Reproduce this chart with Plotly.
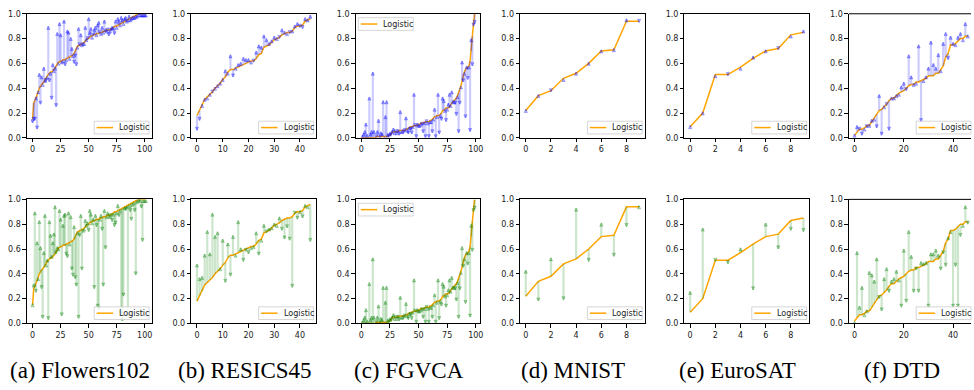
import plotly.graph_objects as go

W, H = 974, 390

# ---------------- data ----------------
flowers_logit = [0.15,0.28,0.30,0.32,0.34,0.37,0.40,0.42,0.43,0.44,
 0.45,0.47,0.48,0.50,0.51,0.52,0.53,0.53,0.54,0.55,
 0.56,0.58,0.60,0.61,0.61,0.62,0.62,0.63,0.63,0.63,
 0.64,0.64,0.65,0.65,0.66,0.66,0.67,0.68,0.70,0.72,
 0.74,0.74,0.75,0.75,0.76,0.76,0.77,0.78,0.79,0.80,
 0.80,0.81,0.82,0.82,0.83,0.83,0.83,0.84,0.84,0.84,
 0.85,0.85,0.85,0.86,0.86,0.86,0.87,0.87,0.87,0.87,
 0.88,0.88,0.89,0.90,0.90,0.90,0.91,0.91,0.92,0.92,
 0.93,0.93,0.94,0.94,0.95,0.95,0.96,0.96,0.97,0.97,
 0.98,0.98,0.99,0.99,1.00,1.00,1.00,1.00,1.00,1.00,
 1.00,1.00]
flowers_top = [0.12,0.14,0.14,0.33,0.07,0.38,0.52,0.27,0.50,0.44,
 0.57,0.47,0.45,0.50,0.90,0.45,0.53,0.31,0.60,0.55,
 0.57,0.25,0.85,0.61,0.93,0.84,0.62,0.63,0.95,0.58,
 0.64,0.87,0.86,0.65,0.81,0.73,0.67,0.60,0.65,0.58,
 0.74,0.89,0.74,0.84,0.76,0.77,0.77,0.90,0.80,0.79,
 0.97,0.86,0.89,0.82,0.82,0.88,0.90,0.84,0.92,0.94,
 0.84,0.85,0.90,0.86,0.95,0.88,0.87,0.86,0.82,0.87,
 0.86,0.90,0.89,0.83,0.95,0.90,0.97,0.95,0.92,0.98,
 0.96,0.93,0.97,0.98,0.95,0.96,0.99,0.96,0.97,0.98,
 0.98,0.98,0.99,0.99,1.00,0.99,1.00,1.00,1.00,1.00,
 1.00,1.00]
flowers_bottom = [0.16,0.32,0.90,0.25,0.66,0.37,0.83,0.62,0.28,0.04,
 0.58,0.88,0.48,0.52,0.03,0.83,0.72,0.55,0.66,0.73,
 0.95,0.56,0.62,0.61,0.92,0.85,0.06,0.80,0.88,0.89,
 0.55,0.53,0.90,0.65,0.87,0.43,0.38,0.79,0.36,0.30,
 0.74,0.04,0.70,0.88,0.43,0.76,0.77,0.84,0.80,0.82,
 0.74,0.92,0.89,0.82,0.85,0.28,0.88,0.78,0.13,0.11,
 0.85,0.88,0.75,0.30,0.92,0.60,0.87,0.90,0.88,0.87,
 0.86,0.82,0.89,0.78,0.80,0.90,0.96,0.86,0.92,0.07,
 0.02,0.22,0.94,0.91,0.95,0.05,0.96,0.90,0.83,0.97,
 0.98,0.90,0.39,0.99,1.00,0.98,1.00,0.93,0.66,1.00,
 1.00,1.00]

resisc_logit = [0.18,0.22,0.26,0.31,0.33,0.35,0.37,0.40,0.42,0.44,
 0.47,0.49,0.53,0.55,0.55,0.56,0.57,0.58,0.59,0.60,
 0.61,0.62,0.62,0.64,0.67,0.68,0.73,0.74,0.75,0.77,
 0.79,0.80,0.81,0.83,0.84,0.85,0.85,0.86,0.89,0.90,
 0.90,0.91,0.94,0.95,0.96]
resisc_top = [0.06,0.14,0.27,0.32,0.33,0.36,0.36,0.41,0.43,0.45,
 0.48,0.55,0.53,0.67,0.49,0.57,0.60,0.61,0.65,0.64,
 0.64,0.62,0.61,0.70,0.75,0.74,0.83,0.80,0.77,0.79,
 0.82,0.81,0.80,0.88,0.86,0.85,0.84,0.87,0.91,0.93,
 0.89,0.88,0.97,0.96,0.99]
resisc_bottom = [0.48,0.37,0.38,0.56,0.75,0.57,0.89,0.71,0.74,0.45,
 0.68,0.33,0.65,0.38,0.71,0.56,0.83,0.61,0.50,0.58,
 0.56,0.62,0.63,0.74,0.55,0.68,0.80,0.73,0.77,0.78,
 0.81,0.80,0.86,0.75,0.68,0.77,0.67,0.29,0.88,0.84,
 0.91,0.85,0.96,0.95,0.66]

fgvca_logit = [0.00,0.00,0.00,0.00,0.00,0.00,0.00,0.00,0.00,0.00,
 0.00,0.00,0.00,0.01,0.01,0.01,0.01,0.01,0.01,0.01,
 0.01,0.01,0.01,0.01,0.02,0.02,0.03,0.05,0.05,0.05,
 0.05,0.05,0.05,0.06,0.06,0.06,0.06,0.06,0.06,0.07,
 0.07,0.08,0.08,0.09,0.09,0.09,0.10,0.10,0.10,0.10,
 0.11,0.11,0.12,0.12,0.12,0.12,0.13,0.13,0.13,0.13,
 0.14,0.14,0.15,0.16,0.17,0.17,0.18,0.18,0.18,0.19,
 0.20,0.22,0.22,0.23,0.24,0.24,0.24,0.25,0.27,0.28,
 0.29,0.30,0.31,0.32,0.34,0.36,0.39,0.42,0.46,0.50,
 0.53,0.55,0.56,0.57,0.58,0.62,0.70,0.82,0.92,1.00]
fgvca_top = [0.00,0.02,0.04,0.06,0.12,0.03,0.00,0.33,0.04,0.06,
 0.53,0.06,0.00,0.00,0.06,0.15,0.02,0.05,0.04,0.30,
 0.01,0.18,0.30,0.03,0.01,0.04,0.02,0.06,0.08,0.05,
 0.04,0.05,0.07,0.02,0.22,0.06,0.06,0.04,0.05,0.17,
 0.07,0.03,0.09,0.06,0.03,0.10,0.36,0.09,0.00,0.12,
 0.11,0.11,0.12,0.10,0.04,0.13,0.00,0.12,0.13,0.00,
 0.14,0.14,0.04,0.16,0.24,0.00,0.18,0.36,0.03,0.19,
 0.14,0.33,0.31,0.23,0.13,0.24,0.28,0.36,0.27,0.38,
 0.30,0.30,0.27,0.18,0.34,0.04,0.27,0.42,0.62,0.45,
 0.53,0.16,0.58,0.47,0.58,0.05,0.80,0.58,0.90,0.92]
fgvca_bottom = [0.00,0.02,0.04,0.06,0.12,0.03,0.00,0.33,0.04,0.06,
 0.53,0.06,0.00,0.00,0.06,0.15,0.02,0.05,0.04,0.30,
 0.01,0.18,0.30,0.03,0.01,0.04,0.02,0.06,0.08,0.05,
 0.04,0.05,0.07,0.02,0.22,0.06,0.06,0.04,0.05,0.17,
 0.07,0.03,0.09,0.06,0.03,0.10,0.36,0.09,0.00,0.12,
 0.11,0.11,0.12,0.10,0.04,0.13,0.00,0.12,0.13,0.00,
 0.14,0.14,0.04,0.16,0.24,0.00,0.18,0.36,0.03,0.19,
 0.14,0.33,0.31,0.23,0.13,0.24,0.28,0.36,0.27,0.38,
 0.30,0.30,0.27,0.18,0.34,0.04,0.27,0.42,0.62,0.45,
 0.53,0.16,0.58,0.47,0.58,0.05,0.80,0.58,0.90,0.92]

mnist_logit = [0.22,0.34,0.38,0.48,0.52,0.60,0.70,0.71,0.94,0.94]
mnist_top = [0.23,0.35,0.37,0.48,0.53,0.61,0.71,0.72,0.96,0.93]
mnist_bottom = [0.43,0.18,0.53,0.19,0.93,0.50,0.81,0.54,0.78,0.95]

eurosat_logit = [0.09,0.20,0.51,0.51,0.57,0.64,0.70,0.72,0.83,0.85]
eurosat_top = [0.10,0.21,0.51,0.50,0.57,0.66,0.71,0.71,0.83,0.87]
eurosat_bottom = [0.26,0.77,0.50,0.48,0.61,0.27,0.81,0.60,0.75,0.74]

dtd_logit = [0.02,0.05,0.07,0.07,0.08,0.10,0.10,0.13,0.16,0.19,
 0.22,0.23,0.25,0.27,0.30,0.32,0.32,0.34,0.36,0.37,
 0.38,0.40,0.42,0.43,0.43,0.45,0.45,0.46,0.47,0.48,
 0.50,0.50,0.50,0.52,0.52,0.55,0.58,0.65,0.68,0.75,
 0.75,0.76,0.78,0.80,0.80,0.82,0.82]
dtd_top = [0.03,0.10,0.06,0.02,0.08,0.08,0.11,0.15,0.16,0.08,
 0.35,0.02,0.26,0.26,0.06,0.33,0.33,0.35,0.36,0.42,
 0.45,0.38,0.67,0.50,0.44,0.45,0.75,0.13,0.47,0.50,
 0.57,0.78,0.60,0.57,0.68,0.55,0.77,0.85,0.63,0.82,
 0.77,0.76,0.82,0.85,0.80,0.93,0.83]
dtd_bottom = [0.02,0.58,0.14,0.30,0.08,0.11,0.42,0.40,0.35,0.53,
 0.20,0.10,0.37,0.45,0.25,0.35,0.37,0.43,0.36,0.13,
 0.60,0.17,0.75,0.55,0.25,0.43,0.25,0.50,0.49,0.50,
 0.13,0.57,0.57,0.60,0.56,0.43,0.56,0.46,0.70,0.75,
 0.13,0.46,0.13,0.70,0.80,0.95,0.80]

captions = ["(a) Flowers102", "(b) RESICS45", "(c) FGVCA", "(d) MNIST", "(e) EuroSAT", "(f) DTD"]
x_ticks = [[0, 25, 50, 75, 100], [0, 10, 20, 30, 40], [0, 25, 50, 75, 100],
           [0, 2, 4, 6, 8], [0, 2, 4, 6, 8], [0, 20, 40]]
y_ticks = [0.0, 0.2, 0.4, 0.6, 0.8, 1.0]
legend_name = "Logistic"

logits = [flowers_logit, resisc_logit, fgvca_logit, mnist_logit, eurosat_logit, dtd_logit]
tops = [flowers_top, resisc_top, fgvca_top, mnist_top, eurosat_top, dtd_top]
bottoms = [flowers_bottom, resisc_bottom, fgvca_bottom, mnist_bottom, eurosat_bottom, dtd_bottom]
legend_pos = ["br", "br", "tl", "br", "br", "br"]

# ---------------- layout geometry (px) ----------------
col_left = [27 + 164.9 * i for i in range(6)]
panel_w = 125.0
row_top = [10.0, 200.0]
panel_h = 127.0

ORANGE = "#FFA500"
SHAFT = ["rgba(0,0,255,0.20)", "rgba(0,128,0,0.20)"]
HEAD = ["rgba(0,0,255,0.30)", "rgba(0,128,0,0.30)"]
HEAD_EDGE = ["rgba(0,0,255,0.45)", "rgba(0,128,0,0.45)"]

def px_x(px):
    return px / W

def px_y(py):
    return 1 - py / H

fig = go.Figure()
shapes = []
annotations = []
layout_axes = {}

for r in range(2):
    for c in range(6):
        k = r * 6 + c + 1
        xname = "x" if k == 1 else f"x{k}"
        yname = "y" if k == 1 else f"y{k}"
        logit = logits[c]
        actual = tops[c] if r == 0 else bottoms[c]
        n = len(logit)
        xs = list(range(n))
        margin = 0.05 * (n - 1)
        x0, x1 = -margin, (n - 1) + margin
        left = col_left[c]
        right = left + panel_w
        if right > W:
            x1 = x0 + (x1 - x0) * (W - left) / panel_w
            right = W
        top = row_top[r]
        bottom = top + panel_h

        fig.add_trace(go.Scatter(x=xs, y=logit, mode="lines",
                                 line=dict(color=ORANGE, width=1.5),
                                 xaxis=xname, yaxis=yname, showlegend=False,
                                 hoverinfo="skip"))
        sx, sy = [], []
        for i in range(n):
            sx += [xs[i], xs[i], None]
            sy += [logit[i], actual[i], None]
        fig.add_trace(go.Scatter(x=sx, y=sy, mode="lines",
                                 line=dict(color=SHAFT[r], width=2.2),
                                 xaxis=xname, yaxis=yname, showlegend=False,
                                 hoverinfo="skip"))
        syms = ["arrow-up" if actual[i] >= logit[i] else "arrow-down" for i in range(n)]
        fig.add_trace(go.Scatter(x=xs, y=actual, mode="markers",
                                 marker=dict(symbol=syms, size=3.2, color=HEAD[r],
                                             line=dict(color=HEAD_EDGE[r], width=0.6)),
                                 xaxis=xname, yaxis=yname, showlegend=False,
                                 hoverinfo="skip"))

        xa = "xaxis" if k == 1 else f"xaxis{k}"
        ya = "yaxis" if k == 1 else f"yaxis{k}"
        layout_axes[xa] = dict(domain=[px_x(left), px_x(right)], range=[x0, x1],
                               anchor=yname, showgrid=False, zeroline=False,
                               showline=True, linecolor="black", linewidth=1, mirror=True,
                               ticks="outside", ticklen=3.5, tickwidth=0.8, tickcolor="black",
                               tickvals=x_ticks[c], ticktext=[str(t) for t in x_ticks[c]],
                               tickfont=dict(family="DejaVu Sans", size=8, color="#222"),
                               fixedrange=True)
        layout_axes[ya] = dict(domain=[px_y(bottom), px_y(top)], range=[0, 1],
                               anchor=xname, showgrid=False, zeroline=False,
                               showline=True, linecolor="black", linewidth=1,
                               mirror=(c != 5),
                               ticks="outside", ticklen=3.5, tickwidth=0.8, tickcolor="black",
                               tickvals=y_ticks, ticktext=[f"{t:.1f}" for t in y_ticks],
                               tickfont=dict(family="DejaVu Sans", size=8, color="#222"),
                               fixedrange=True)
        if c == 5:
            layout_axes[xa]["mirror"] = False
            shapes.append(dict(type="line", xref="paper", yref="paper",
                               x0=px_x(left), x1=1.0, y0=px_y(top), y1=px_y(top),
                               line=dict(color="black", width=1)))

        full_right = left + panel_w
        if legend_pos[c] == "br":
            bx0, bx1 = full_right - 57.5, full_right - 2.5
            by0, by1 = bottom - 17, bottom - 4
        else:
            bx0, bx1 = left + 2.7, left + 57.7
            by0, by1 = top + 4, top + 17
        shapes.append(dict(type="rect", xref="paper", yref="paper",
                           x0=px_x(bx0), x1=px_x(bx1), y0=px_y(by1), y1=px_y(by0),
                           fillcolor="rgba(255,255,255,0.8)",
                           line=dict(color="#cccccc", width=0.8), layer="above"))
        ly = (by0 + by1) / 2
        shapes.append(dict(type="line", xref="paper", yref="paper",
                           x0=px_x(bx0 + 2.5), x1=px_x(bx0 + 19), y0=px_y(ly), y1=px_y(ly),
                           line=dict(color=ORANGE, width=1.5), layer="above"))
        annotations.append(dict(text=legend_name, xref="paper", yref="paper",
                                x=px_x(bx0 + 23), y=px_y(ly), xanchor="left", yanchor="middle",
                                showarrow=False,
                                font=dict(family="DejaVu Sans", size=8, color="#222")))

for c in range(6):
    cx = col_left[c] + panel_w / 2 - 9
    annotations.append(dict(text=captions[c], xref="paper", yref="paper",
                            x=px_x(cx), y=px_y(375), xanchor="center", yanchor="middle",
                            showarrow=False,
                            font=dict(family="Liberation Serif", size=23, color="black")))

fig.update_layout(width=W, height=H, margin=dict(l=0, r=0, t=0, b=0),
                  paper_bgcolor="white", plot_bgcolor="white",
                  showlegend=False, shapes=shapes, annotations=annotations,
                  **layout_axes)

fig.write_html("out.html", config={"displayModeBar": False},
               post_script="document.body.style.margin='0';document.body.style.overflow='hidden';")
